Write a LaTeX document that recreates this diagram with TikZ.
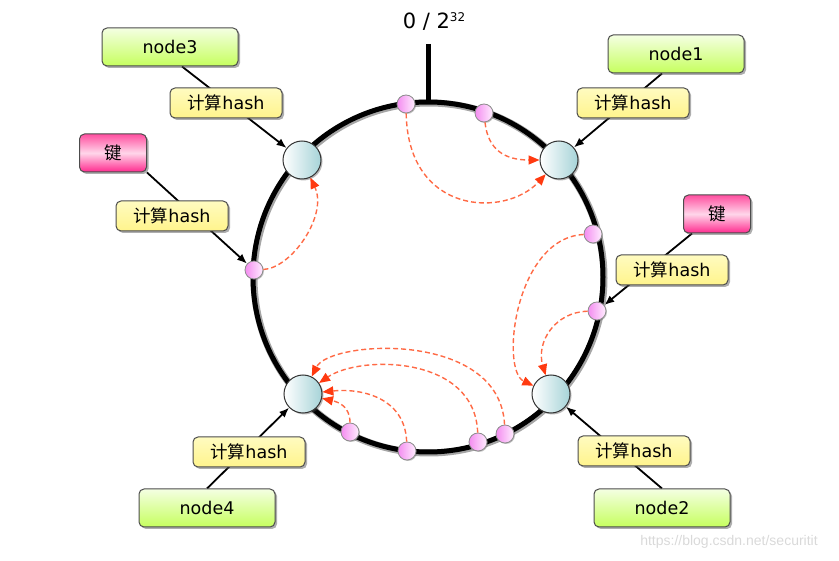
\documentclass[tikz,border=0pt]{standalone}
\usepackage{fontspec}
\setmainfont{DejaVu Sans}
\newfontfamily\cjk{Noto Sans CJK SC}
\newfontfamily\wmfont{Liberation Sans}
\usetikzlibrary{arrows.meta,shadows,backgrounds}
\definecolor{greentop}{HTML}{F4FFE2}
\definecolor{greenbot}{HTML}{C6FF5E}
\definecolor{yellowtop}{HTML}{FFFBC0}
\definecolor{yellowbot}{HTML}{FFF48C}
\definecolor{pinktop}{HTML}{FF4FA0}
\definecolor{pinkmid}{HTML}{FFD6EA}
\definecolor{pinkbot}{HTML}{FF2A8E}
\definecolor{serverright}{HTML}{A6D3D8}
\definecolor{dotleft}{HTML}{F48CF0}
\definecolor{dotright}{HTML}{FFEEFF}
\definecolor{hopline}{HTML}{FF6A45}
\definecolor{hophead}{HTML}{FF3A10}
\newcommand\hashtxt{{\cjk 计算}hash}
\tikzset{
  box/.style={draw=black!70, line width=1pt, rounded corners=5pt, inner sep=0pt,
    drop shadow={shadow xshift=2pt, shadow yshift=-2pt, opacity=0.45, fill=black!70}},
  txt/.style={font=\fontsize{17.5}{20}\selectfont},
  greenbox/.style={box, txt, minimum width=136pt, minimum height=38pt,
    top color=greentop, bottom color=greenbot},
  hashbox/.style={box, txt, minimum width=112pt, minimum height=30pt,
    top color=yellowtop, bottom color=yellowbot},
  keybox/.style={box, txt, minimum width=67pt, minimum height=38pt,
    top color=pinktop, bottom color=pinkbot, middle color=pinkmid},
  server/.style={circle, draw=black!80, line width=1pt, minimum size=38pt, inner sep=0pt,
    left color=white, right color=serverright,
    drop shadow={shadow xshift=1.5pt, shadow yshift=-1.5pt, opacity=0.4, fill=black!70}},
  dot/.style={circle, draw=black!45, line width=0.8pt, minimum size=18pt, inner sep=0pt,
    left color=dotleft, right color=dotright,
    drop shadow={shadow xshift=1pt, shadow yshift=-1pt, opacity=0.35, fill=black!70}},
  feed/.style={draw=black, line width=1.8pt, -{Latex[length=10pt,width=8pt]}},
  hop/.style={draw=hopline, line width=1.4pt, dash pattern=on 5pt off 3pt,
    -{Triangle[length=11pt,width=9pt,color=hophead]}},
}
\begin{document}
\begin{tikzpicture}[x=1pt,y=-1pt]
\path[use as bounding box] (0,0) rectangle (839,561);
% ring and zero mark
\draw[black!35, line width=7pt] (429,278) circle[radius=175pt];
\draw[black, line width=5pt] (428,277) circle[radius=175pt];
\draw[black, line width=5pt] (428,44) -- (428,103);
\node (zero) at (434,22) {\fontsize{21}{24}\selectfont 0 / 2\raisebox{7pt}{\fontsize{12}{12}\selectfont 32}};
% servers
\node[server] (s3) at (302,160) {};
\node[server] (s1) at (559,160) {};
\node[server] (s4) at (303,394) {};
\node[server] (s2) at (551,394) {};
% key points
\node[dot] (k1) at (406,104) {};
\node[dot] (k2) at (484,113) {};
\node[dot] (pL) at (254,270) {};
\node[dot] (k4) at (593,234) {};
\node[dot] (pR) at (597,311) {};
\node[dot] (b1) at (350,432) {};
\node[dot] (b2) at (407,451) {};
\node[dot] (b3) at (478,442) {};
\node[dot] (b4) at (505,434) {};
% boxes
\node[greenbox] (n3) at (170,47) {node3};
\node[greenbox] (n1) at (676,54) {node1};
\node[greenbox] (n4) at (207,508) {node4};
\node[greenbox] (n2) at (662,508) {node2};
\node[keybox] (kL) at (113,153) {\cjk 键};
\node[keybox] (kR) at (717,214) {\cjk 键};
\node[hashbox] (h3) at (226,103) {\hashtxt};
\node[hashbox] (hL) at (172,216) {\hashtxt};
\node[hashbox] (h1) at (633,103) {\hashtxt};
\node[hashbox] (hR) at (672,270) {\hashtxt};
\node[hashbox] (h4) at (249,452) {\hashtxt};
\node[hashbox] (h2) at (634,451) {\hashtxt};
% feeds (behind the hash boxes)
\begin{pgfonlayer}{background}
\draw[feed] ([xshift=12pt]n3.south) -- (s3);
\draw[feed] (kL.south east) -- (pL);
\draw[feed] ([xshift=-14pt]n1.south) -- (s1);
\draw[feed] ([xshift=-25pt]kR.south) -- (pR);
\draw[feed] (n4.north) -- (s4);
\draw[feed] (n2.north) -- (s2);
\end{pgfonlayer}
% hops along the ring
\draw[hop] (k1) .. controls (408,215) and (505,218) .. (s1);
\draw[hop] (k2) .. controls (488,150) and (505,160) .. (s1);
\draw[hop] (pL) .. controls (292,268) and (328,215) .. (s3);
\draw[hop] (k4) .. controls (515,238) and (500,370) .. (s2);
\draw[hop] (pR) .. controls (555,312) and (536,342) .. (s2);
\draw[hop] (b4) .. controls (500,330) and (330,340) .. (s4);
\draw[hop] (b3) .. controls (475,355) and (360,355) .. (s4);
\draw[hop] (b2) .. controls (405,398) and (362,388) .. (s4);
\draw[hop] (b1) .. controls (350,406) and (338,402) .. (s4);
% watermark
\node[font=\wmfont\fontsize{14}{16}\selectfont, text=black!15] (wm) at (729,542) {https://blog.csdn.net/securitit};
\end{tikzpicture}
\end{document}
